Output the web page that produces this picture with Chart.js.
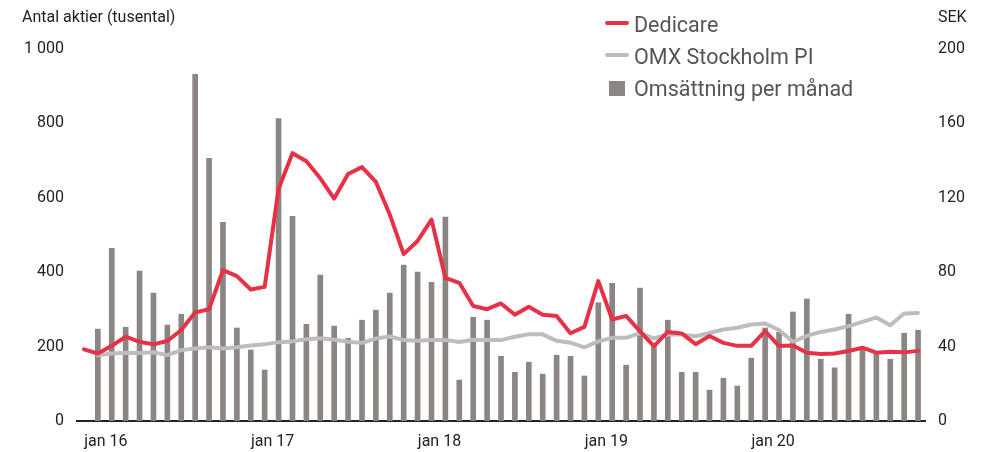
<!DOCTYPE html>
<html>
<head>
<meta charset="utf-8">
<script src="https://cdn.jsdelivr.net/npm/chart.js@4.4.1/dist/chart.umd.min.js"></script>
<style>
  html, body { margin: 0; padding: 0; background: #fff; }
  #wrap { position: relative; width: 991px; height: 452px; font-family: Roboto, "Noto Sans", sans-serif; }
  #chart { position: absolute; left: 0; top: 0; }
  .axisTitle { position: absolute; top: 7px; font-size: 16px; line-height: 20px; color: #222; }
  .legendRow { position: absolute; left: 605px; height: 26px; font-size: 21.5px; line-height: 26px; color: #555; white-space: nowrap; }
  .legendRow .sym { position: absolute; left: 0; }
  .legendRow .txt { position: absolute; left: 29px; top: 0; }
  .sym.line { top: 9px; width: 24px; height: 4px; border-radius: 2px; }
  .sym.box { left: 4px; top: 5px; width: 16px; height: 15px; background: #8b8683; }
</style>
</head>
<body>
<div id="wrap">
  <canvas id="chart" width="991" height="452"></canvas>
  <div class="axisTitle" style="left:22px">Antal aktier (tusental)</div>
  <div class="axisTitle" style="left:938px">SEK</div>
  <div class="legendRow" style="top:12px"><span class="sym line" style="background:#e63247"></span><span class="txt">Dedicare</span></div>
  <div class="legendRow" style="top:44px"><span class="sym line" style="background:#bdbdbd"></span><span class="txt">OMX Stockholm PI</span></div>
  <div class="legendRow" style="top:76px"><span class="sym box"></span><span class="txt">Omsättning per månad</span></div>
</div>
<script>
const months = [
  "dec 15",
  "jan 16", "feb 16", "mar 16", "apr 16", "maj 16", "jun 16", "jul 16", "aug 16", "sep 16", "okt 16", "nov 16", "dec 16",
  "jan 17", "feb 17", "mar 17", "apr 17", "maj 17", "jun 17", "jul 17", "aug 17", "sep 17", "okt 17", "nov 17", "dec 17",
  "jan 18", "feb 18", "mar 18", "apr 18", "maj 18", "jun 18", "jul 18", "aug 18", "sep 18", "okt 18", "nov 18", "dec 18",
  "jan 19", "feb 19", "mar 19", "apr 19", "maj 19", "jun 19", "jul 19", "aug 19", "sep 19", "okt 19", "nov 19", "dec 19",
  "jan 20", "feb 20", "mar 20", "apr 20", "maj 20", "jun 20", "jul 20", "aug 20", "sep 20", "okt 20", "nov 20", "dec 20"
];

// SEK, höger axel
const dedicare = [
  38.5,
  36.3, 40.4, 45.3, 42.6, 41.2, 43.0, 48.9, 58.4, 60.1, 81.1, 77.9, 70.7,
  72.1, 124.9, 144.0, 139.6, 130.5, 119.6, 132.8, 136.5, 128.5, 111.0, 89.7, 96.8,
  108.3, 76.9, 74.3, 61.8, 60.1, 63.2, 57.1, 61.4, 57.1, 56.5, 47.2, 50.6,
  75.2, 54.6, 56.5, 48.2, 40.2, 47.9, 47.1, 41.3, 45.7, 42.0, 40.4, 40.4,
  48.3, 40.3, 40.6, 36.7, 36.0, 36.3, 37.6, 39.4, 36.7, 37.2, 36.9, 37.7
];

// indexerat mot Dedicare, höger axel
const omxPI = [
  null,
  35.4, 36.3, 36.7, 36.5, 37.0, 35.4, 38.1, 39.0, 39.6, 39.0, 39.6, 40.6,
  41.2, 42.4, 42.8, 43.9, 44.5, 43.7, 42.6, 42.0, 44.3, 45.4, 43.5, 43.1,
  43.5, 43.5, 42.5, 43.7, 43.5, 43.5, 45.3, 46.6, 46.6, 43.1, 42.1, 39.6,
  42.8, 44.7, 44.7, 47.2, 44.4, 46.5, 46.5, 45.6, 47.3, 49.2, 50.1, 51.9,
  52.4, 48.9, 42.6, 45.8, 47.9, 49.2, 51.0, 53.3, 55.7, 51.5, 57.8, 58.1
];

// tusental aktier, vänster axel
const omsattning = [
  null,
  247, 464, 252, 403, 344, 258, 287, 932, 706, 534, 250, 191,
  137, 813, 550, 260, 392, 255, 222, 271, 298, 344, 419, 400,
  373, 548, 110, 279, 271, 174, 131, 158, 126, 177, 174, 121,
  318, 370, 150, 357, 205, 271, 131, 131, 83, 115, 94, 169,
  250, 239, 293, 328, 166, 143, 287, 195, 183, 166, 236, 244
];

const leftTicks = [0, 200, 400, 600, 800, 1000];
const rightTicks = [0, 40, 80, 120, 160, 200];

const tickFont = { family: "Roboto", size: 16 };
const tickColor = "#222";

const ctx = document.getElementById("chart").getContext("2d");

const chart = new Chart(ctx, {
  type: "bar",
  data: {
    labels: months,
    datasets: [
      {
        type: "line",
        label: "Dedicare",
        data: dedicare,
        yAxisID: "yRight",
        borderColor: "#e63247",
        borderWidth: 4,
        pointRadius: 0,
        tension: 0,
        borderJoinStyle: "round",
        borderCapStyle: "round",
        order: 0,
      },
      {
        type: "line",
        label: "OMX Stockholm PI",
        data: omxPI,
        yAxisID: "yRight",
        borderColor: "#bdbdbd",
        borderWidth: 4,
        pointRadius: 0,
        tension: 0,
        borderJoinStyle: "round",
        borderCapStyle: "round",
        order: 1,
      },
      {
        label: "Omsättning per månad",
        data: omsattning,
        yAxisID: "yLeft",
        backgroundColor: "#8b8683",
        barThickness: 5,
        order: 2,
      },
    ],
  },
  options: {
    responsive: false,
    animation: false,
    layout: { padding: { top: 49, left: 0, right: 0, bottom: 0 } },
    plugins: {
      legend: { display: false },
      tooltip: { enabled: false },
    },
    scales: {
      x: {
        offset: true,
        grid: { display: false, drawTicks: false },
        border: { display: true, color: "#222", width: 2 },
        ticks: {
          autoSkip: false,
          maxRotation: 0,
          font: tickFont,
          color: tickColor,
          padding: 11,
          labelOffset: 8,
          callback: function (value) {
            const l = months[value];
            return l.indexOf("jan") === 0 ? l : "";
          },
        },
        afterFit: (scale) => { scale.height = 31; },
      },
      yLeft: {
        position: "left",
        min: 0,
        max: 1000,
        afterBuildTicks: (scale) => { scale.ticks = leftTicks.map((v) => ({ value: v })); },
        grid: { display: false, drawTicks: false },
        border: { display: false },
        ticks: {
          font: tickFont,
          color: tickColor,
          padding: 13,
          callback: (v) => (v === 1000 ? "1 000" : String(v)),
        },
        afterFit: (scale) => { scale.width = 77; },
      },
      yRight: {
        position: "right",
        min: 0,
        max: 200,
        afterBuildTicks: (scale) => { scale.ticks = rightTicks.map((v) => ({ value: v })); },
        grid: { display: false, drawTicks: false },
        border: { display: false },
        ticks: {
          font: tickFont,
          color: tickColor,
          padding: 13,
        },
        afterFit: (scale) => { scale.width = 66; },
      },
    },
  },
});
</script>
</body>
</html>
